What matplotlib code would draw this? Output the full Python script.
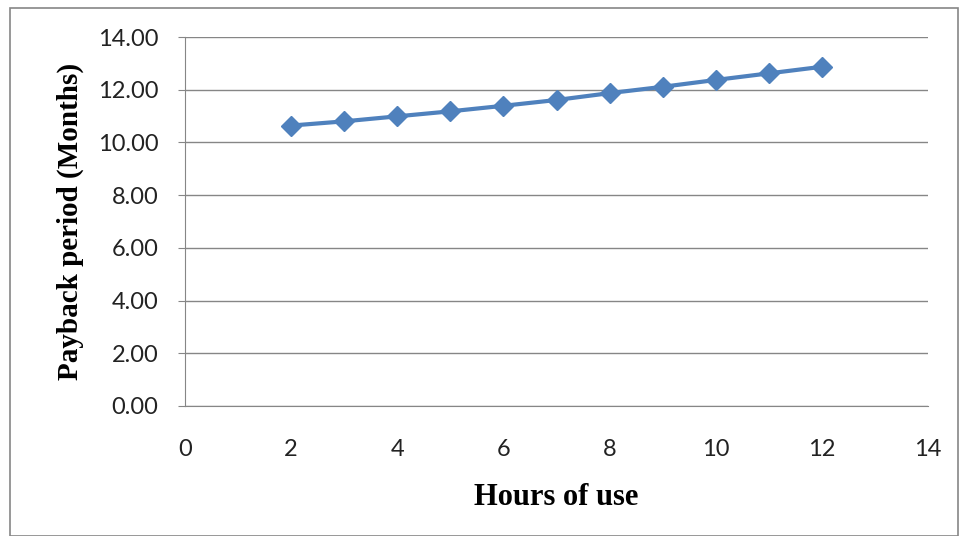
import matplotlib.pyplot as plt
from matplotlib.patches import Rectangle

# hours of use vs payback period
hours = [2, 3, 4, 5, 6, 7, 8, 9, 10, 11, 12]
payback = [10.64, 10.80, 10.99, 11.18, 11.39, 11.61, 11.87, 12.11, 12.37, 12.62, 12.87]

fig = plt.figure(figsize=(9.59, 5.36), dpi=100)
ax = fig.add_axes([185 / 959, 1 - 406 / 536, (928 - 185) / 959, (406 - 37) / 536])

# outer chart frame
fig.patches.append(Rectangle((10 / 959, 0), 948 / 959, 1 - 8 / 536, transform=fig.transFigure,
                             fill=False, edgecolor='#868686', linewidth=1.2))

ax.plot(hours, payback, color='#4F81BD', linewidth=3, marker='D', markersize=10.5,
        markerfacecolor='#4F81BD', markeredgecolor='#4F81BD')

ax.set_xlim(0, 14)
ax.set_ylim(0, 14)
ax.set_xticks(range(0, 15, 2))
ax.set_yticks(range(0, 15, 2))
ax.set_yticklabels([f'{v:.2f}' for v in range(0, 15, 2)])
ax.grid(axis='y', color='#868686', linewidth=1)
ax.set_axisbelow(True)

for s in ['top', 'right']:
    ax.spines[s].set_visible(False)
for s in ['left', 'bottom']:
    ax.spines[s].set_color('#868686')

ax.tick_params(axis='y', length=5, color='#868686', pad=14, labelsize=17, labelcolor='#222222')
ax.tick_params(axis='x', length=0, pad=24, labelsize=17, labelcolor='#222222')
for lbl in ax.get_xticklabels() + ax.get_yticklabels():
    lbl.set_family('Lato')

ax.set_xlabel('Hours of use', family='Liberation Serif', fontweight='bold', fontsize=22, labelpad=16)
ax.set_ylabel('Payback period (Months)', family='Liberation Serif', fontweight='bold', fontsize=21, labelpad=10)

fig.savefig('out.png', dpi=100)
